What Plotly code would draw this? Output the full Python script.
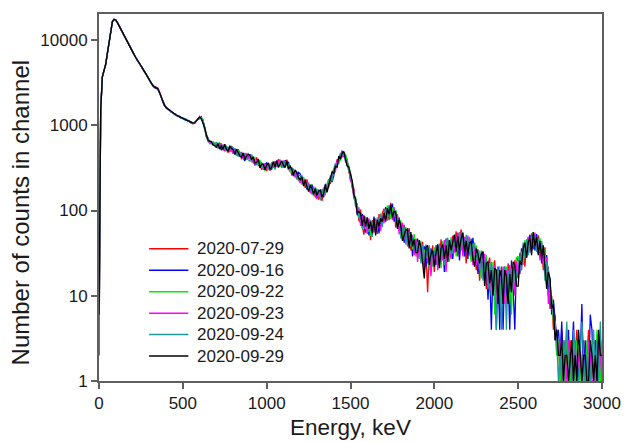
import plotly.graph_objects as go

# Energy channels (keV), 10 keV grid
energy_kev = list(range(0, 3001, 10))

series_names = ["2020-07-29", "2020-09-16", "2020-09-22", "2020-09-23", "2020-09-24", "2020-09-29"]
series_colors = ["#ff0000", "#0000ff", "#00ee00", "#ff00ff", "#1f9a9a", "#000000"]

counts_0729 = [
    2, 1450, 3650, 4450, 5250, 7100, 9600, 13100, 16600, 17400,
    17100, 15900, 14500, 13400, 12300, 11300, 10300, 9500, 8700, 8000,
    7350, 6750, 6250, 5750, 5300, 5050, 4700, 4350, 3950, 3750,
    3450, 3200, 2900, 2850, 2800, 2750, 2500, 2100, 1880, 1700,
    1640, 1580, 1490, 1460, 1380, 1370, 1300, 1300, 1250, 1240,
    1190, 1200, 1140, 1150, 1090, 1100, 1040, 1080, 1130, 1170,
    1250, 1180, 1160, 910, 800, 655, 650, 640, 585, 600,
    620, 565, 625, 535, 515, 560, 560, 475, 580, 520,
    480, 535, 485, 455, 485, 400, 450, 455, 400, 465,
    408, 430, 360, 397, 420, 338, 350, 300, 350, 330,
    290, 350, 325, 346, 318, 380, 340, 400, 337, 373,
    361, 332, 395, 320, 330, 257, 290, 252, 285, 250,
    221, 248, 229, 185, 232, 182, 182, 161, 181, 143,
    172, 134, 160, 130, 180, 175, 181, 233, 205, 261,
    305, 309, 398, 367, 445, 423, 492, 420, 398, 279,
    259, 184, 182, 119, 117, 75, 103, 66, 52, 80,
    58, 71, 45, 77, 60, 76, 53, 91, 69, 94,
    105, 80, 101, 77, 123, 90, 104, 63, 86, 58,
    72, 53, 68, 44, 50, 62, 34, 45, 34, 47,
    29, 42, 31, 43, 19, 34, 11, 35, 22, 39,
    19, 35, 30, 24, 46, 29, 41, 23, 40, 45,
    30, 51, 36, 57, 29, 47, 60, 34, 49, 24,
    47, 30, 47, 30, 36, 20, 35, 15, 28, 18,
    28, 12, 23, 28, 13, 17, 26, 10, 19, 6,
    22, 10, 17, 8, 24, 14, 21, 12, 26, 19,
    16, 32, 26, 36, 22, 39, 46, 36, 54, 35,
    50, 33, 51, 37, 38, 20, 37, 14, 22, 7,
    10, 4, 6, 2, 3, 1, 4, 2, 1, 3,
    1, 3, 2, 1, 2, 4, 1, 2, 1, 3,
    1, 2, 4, 1, 2, 1, 3, 1, 2, 3,
    1,
]

counts_0916 = [
    3, 1550, 3750, 4400, 5150, 6950, 9450, 12900, 16400, 17500,
    17300, 16100, 14700, 13200, 12100, 11100, 10450, 9650, 8850, 8050,
    7250, 6650, 6150, 5650, 5400, 4950, 4600, 4250, 4050, 3650,
    3350, 3100, 3000, 2780, 2700, 2680, 2420, 2180, 1920, 1740,
    1600, 1540, 1520, 1430, 1420, 1340, 1340, 1270, 1280, 1210,
    1220, 1160, 1180, 1110, 1130, 1060, 1080, 1050, 1110, 1190,
    1210, 1260, 1060, 950, 735, 715, 618, 620, 630, 590,
    545, 610, 585, 510, 583, 586, 508, 538, 513, 572,
    533, 481, 445, 522, 460, 475, 416, 383, 460, 418,
    458, 381, 407, 339, 398, 371, 318, 360, 320, 349,
    362, 309, 336, 302, 362, 334, 384, 332, 372, 373,
    327, 390, 348, 373, 290, 305, 253, 288, 241, 280,
    269, 212, 238, 218, 176, 205, 167, 203, 161, 175,
    144, 176, 146, 172, 143, 206, 173, 214, 245, 216,
    255, 342, 335, 409, 415, 503, 428, 449, 335, 331,
    231, 224, 146, 137, 88, 98, 71, 91, 77, 55,
    78, 51, 69, 54, 85, 56, 73, 54, 86, 76,
    77, 110, 89, 108, 85, 121, 74, 91, 66, 83,
    52, 67, 42, 56, 62, 40, 52, 29, 46, 35,
    47, 28, 41, 30, 38, 22, 33, 23, 36, 25,
    34, 23, 40, 28, 25, 40, 19, 47, 32, 44,
    42, 27, 48, 33, 55, 26, 47, 50, 29, 48,
    27, 46, 29, 48, 28, 37, 18, 30, 19, 33,
    16, 27, 9, 22, 4, 22, 18, 4, 22, 4,
    20, 4, 22, 10, 17, 4, 26, 12, 4, 28,
    26, 18, 36, 26, 38, 28, 42, 52, 34, 52,
    34, 53, 35, 44, 24, 36, 19, 30, 10, 16,
    6, 9, 5, 3, 4, 2, 5, 1, 3, 2,
    4, 1, 2, 5, 1, 3, 1, 2, 8, 1,
    3, 1, 1, 6, 4, 1, 3, 2, 1, 2,
    2,
]

counts_0922 = [
    2, 1500, 3700, 4380, 5200, 7050, 9550, 13050, 16500, 17450,
    17150, 16050, 14650, 13350, 12250, 11250, 10350, 9550, 8800, 7950,
    7300, 6700, 6200, 5700, 5350, 5000, 4650, 4300, 4000, 3700,
    3400, 3150, 2950, 2820, 2750, 2700, 2450, 2150, 1900, 1720,
    1630, 1550, 1510, 1440, 1410, 1350, 1330, 1280, 1270, 1220,
    1210, 1170, 1170, 1120, 1120, 1070, 1070, 1060, 1130, 1170,
    1230, 1240, 1160, 890, 775, 645, 660, 610, 610, 620,
    605, 623, 540, 579, 583, 531, 495, 551, 540, 494,
    519, 470, 509, 505, 425, 461, 462, 419, 404, 473,
    420, 369, 419, 420, 353, 349, 392, 320, 340, 291,
    330, 298, 357, 313, 351, 300, 373, 367, 325, 373,
    373, 367, 337, 351, 280, 324, 271, 288, 252, 222,
    250, 202, 246, 202, 216, 175, 204, 168, 148, 175,
    179, 148, 167, 144, 172, 151, 207, 233, 215, 273,
    315, 342, 335, 423, 385, 455, 444, 464, 373, 321,
    278, 208, 146, 144, 99, 103, 71, 81, 87, 60,
    73, 76, 50, 72, 60, 56, 83, 65, 86, 70,
    94, 86, 114, 108, 79, 108, 86, 102, 66, 72,
    77, 49, 59, 64, 42, 43, 52, 35, 53, 29,
    40, 27, 44, 26, 35, 28, 36, 20, 31, 22,
    37, 32, 23, 38, 21, 44, 30, 43, 28, 25,
    49, 35, 48, 29, 46, 52, 34, 55, 37, 48,
    43, 34, 25, 41, 26, 39, 25, 34, 16, 27,
    19, 30, 15, 24, 10, 25, 6, 20, 13, 22,
    8, 20, 13, 22, 10, 21, 6, 22, 15, 28,
    29, 20, 33, 23, 45, 31, 31, 48, 46, 56,
    38, 49, 31, 48, 27, 33, 34, 14, 19, 13,
    9, 5, 5, 2, 3, 1, 2, 3, 1, 4,
    2, 1, 3, 2, 1, 3, 2, 1, 2, 1,
    1, 3, 2, 1, 3, 2, 1, 4, 2, 1,
    3,
]

counts_0923 = [
    2, 1480, 3720, 4420, 5220, 7020, 9520, 13020, 16520, 17520,
    17220, 16020, 14620, 13320, 12220, 11220, 10420, 9620, 8820, 8020,
    7320, 6720, 6220, 5720, 5370, 5020, 4670, 4320, 4020, 3720,
    3420, 3170, 2970, 2840, 2770, 2720, 2470, 2170, 1910, 1730,
    1610, 1570, 1495, 1455, 1395, 1365, 1315, 1295, 1255, 1235,
    1195, 1185, 1155, 1135, 1105, 1085, 1055, 1075, 1115, 1185,
    1270, 1200, 1120, 950, 735, 690, 610, 640, 600, 610,
    575, 550, 598, 607, 542, 504, 548, 551, 486, 533,
    463, 509, 512, 444, 447, 487, 404, 442, 472, 406,
    445, 417, 371, 350, 386, 392, 329, 360, 300, 358,
    310, 341, 293, 368, 318, 367, 327, 367, 395, 316,
    384, 332, 372, 298, 340, 285, 298, 244, 268, 234,
    211, 239, 202, 235, 184, 213, 160, 182, 188, 149,
    137, 169, 139, 179, 150, 191, 199, 187, 255, 239,
    295, 286, 385, 381, 475, 423, 476, 376, 347, 311,
    222, 216, 138, 131, 93, 109, 66, 86, 62, 85,
    53, 81, 59, 68, 55, 81, 58, 81, 58, 88,
    71, 104, 83, 102, 111, 77, 110, 74, 91, 53,
    57, 72, 46, 60, 38, 55, 41, 52, 30, 44,
    25, 42, 27, 36, 22, 40, 24, 32, 17, 34,
    22, 39, 20, 34, 38, 26, 45, 19, 44, 33,
    27, 47, 32, 45, 54, 34, 56, 29, 49, 36,
    51, 30, 43, 23, 38, 23, 31, 20, 32, 21,
    31, 18, 25, 11, 23, 12, 23, 8, 13, 20,
    13, 22, 8, 20, 13, 23, 11, 22, 10, 25,
    18, 29, 20, 40, 29, 42, 49, 32, 50, 39,
    55, 37, 47, 26, 41, 24, 28, 28, 8, 14,
    7, 7, 3, 4, 2, 3, 1, 2, 2, 1,
    3, 2, 1, 2, 3, 1, 2, 3, 1, 2,
    2, 1, 3, 2, 1, 1, 2, 1, 3, 2,
    1,
]

counts_0924 = [
    2, 1520, 3680, 4410, 5180, 6980, 9480, 12980, 16480, 17480,
    17180, 15980, 14580, 13280, 12180, 11180, 10380, 9580, 8780, 7980,
    7280, 6680, 6180, 5680, 5330, 4980, 4630, 4280, 3980, 3680,
    3380, 3130, 2930, 2800, 2730, 2690, 2440, 2140, 1890, 1710,
    1625, 1555, 1505, 1445, 1405, 1355, 1325, 1285, 1265, 1225,
    1205, 1175, 1165, 1125, 1115, 1075, 1065, 1065, 1125, 1175,
    1190, 1220, 1140, 970, 745, 705, 615, 605, 645, 575,
    634, 537, 556, 593, 569, 518, 575, 512, 554, 559,
    547, 522, 458, 431, 485, 438, 451, 469, 413, 391,
    382, 454, 407, 373, 341, 382, 340, 371, 310, 330,
    341, 319, 304, 357, 373, 311, 361, 332, 383, 339,
    316, 378, 337, 341, 300, 314, 307, 261, 231, 259,
    259, 258, 211, 218, 184, 198, 197, 154, 175, 185,
    165, 169, 132, 165, 187, 159, 181, 223, 235, 228,
    305, 354, 347, 353, 460, 487, 444, 391, 398, 289,
    269, 192, 167, 112, 122, 81, 87, 61, 82, 75,
    63, 56, 78, 49, 75, 71, 63, 81, 92, 64,
    99, 98, 76, 115, 104, 83, 104, 79, 81, 77,
    47, 63, 64, 40, 58, 51, 38, 49, 43, 31,
    43, 39, 24, 40, 26, 37, 27, 39, 25, 31,
    31, 39, 27, 41, 25, 37, 23, 43, 48, 29,
    46, 31, 52, 37, 34, 56, 34, 50, 37, 52,
    35, 49, 29, 38, 42, 27, 35, 20, 34, 15,
    25, 27, 12, 17, 25, 12, 18, 4, 20, 17,
    4, 20, 22, 4, 20, 11, 21, 12, 21, 16,
    24, 29, 20, 42, 28, 46, 30, 44, 34, 52,
    46, 33, 47, 33, 44, 33, 15, 25, 20, 9,
    8, 6, 4, 3, 1, 2, 1, 3, 2, 5,
    1, 2, 1, 4, 2, 1, 1, 2, 5, 2,
    1, 2, 1, 1, 2, 4, 1, 3, 1, 5,
    1,
]

counts_0929 = [
    6, 1500, 3700, 4400, 5200, 7000, 9500, 13000, 16500, 17500,
    17200, 16000, 14600, 13300, 12200, 11200, 10400, 9600, 8800, 8000,
    7300, 6700, 6200, 5700, 5350, 5000, 4650, 4300, 4000, 3700,
    3400, 3150, 2950, 2820, 2750, 2700, 2450, 2150, 1900, 1720,
    1620, 1560, 1500, 1450, 1400, 1360, 1320, 1290, 1260, 1230,
    1200, 1180, 1160, 1130, 1110, 1080, 1060, 1070, 1120, 1180,
    1250, 1200, 1080, 935, 785, 670, 650, 645, 590, 580,
    560, 610, 525, 580, 525, 600, 520, 500, 565, 533,
    519, 455, 525, 483, 435, 425, 476, 395, 437, 454,
    445, 393, 430, 362, 364, 403, 319, 350, 350, 301,
    341, 362, 304, 324, 373, 323, 384, 320, 348, 384,
    339, 320, 383, 309, 330, 305, 262, 300, 277, 242,
    230, 248, 194, 227, 192, 167, 197, 182, 155, 181,
    151, 169, 174, 144, 158, 199, 164, 196, 245, 284,
    275, 331, 322, 436, 400, 471, 492, 405, 335, 321,
    259, 224, 153, 137, 93, 97, 93, 66, 87, 65,
    83, 61, 74, 54, 80, 51, 78, 65, 81, 74,
    94, 74, 107, 90, 117, 83, 98, 96, 61, 78,
    67, 44, 51, 60, 58, 36, 56, 38, 46, 32,
    32, 45, 37, 26, 16, 37, 39, 23, 31, 34,
    22, 32, 40, 21, 36, 40, 27, 39, 25, 45,
    34, 43, 52, 33, 50, 34, 47, 55, 33, 44,
    31, 42, 43, 27, 22, 36, 31, 24, 31, 33,
    13, 24, 25, 14, 20, 10, 21, 20, 8, 20,
    17, 8, 20, 17, 8, 18, 11, 25, 23, 13,
    13, 26, 23, 36, 42, 28, 42, 48, 30, 56,
    38, 49, 30, 44, 27, 39, 22, 12, 19, 16,
    7, 8, 3, 4, 2, 2, 3, 1, 2, 2,
    1, 2, 3, 1, 2, 1, 4, 2, 1, 2,
    2, 1, 1, 3, 2, 1, 2, 1, 4, 2,
    2,
]

all_counts = [counts_0729, counts_0916, counts_0922, counts_0923, counts_0924, counts_0929]
for c in all_counts:
    if len(c) != len(energy_kev):
        raise ValueError(f"length mismatch: {len(c)}")

x_ticks = [0, 500, 1000, 1500, 2000, 2500, 3000]
y_ticks = [1, 10, 100, 1000, 10000]
y_tick_text = ["1", "10", "100", "1000", "10000"]

FONT = "Liberation Sans, Arial, sans-serif"
TEXT_COLOR = "#1a1a1a"
AXIS_COLOR = "#5f5f5f"

fig = go.Figure()
for name, color, counts in zip(series_names, series_colors, all_counts):
    fig.add_trace(go.Scatter(
        x=energy_kev, y=counts, mode="lines", name=name,
        line=dict(color=color, width=1.3), showlegend=False,
    ))

# Custom legend (line sample + label) placed like the reference
shapes = []
annotations = []
leg_top = 0.3604
leg_step = 0.0585
for i, (name, color) in enumerate(zip(series_names, series_colors)):
    yy = leg_top - i * leg_step
    shapes.append(dict(type="line", xref="paper", yref="paper",
                       x0=0.0996, x1=0.1777, y0=yy, y1=yy,
                       line=dict(color=color, width=1.5)))
    annotations.append(dict(text=name, xref="paper", yref="paper", x=0.191, y=yy,
                            xanchor="left", yanchor="middle", showarrow=False,
                            font=dict(family=FONT, size=17, color=TEXT_COLOR)))

annotations.append(dict(text="Energy, keV", xref="paper", yref="paper", x=0.5, y=-0.127,
                        xanchor="center", yanchor="middle", showarrow=False,
                        font=dict(family=FONT, size=22.5, color=TEXT_COLOR)))
annotations.append(dict(text="Number of counts in channel", xref="paper", yref="paper",
                        x=-0.156, y=0.458, xanchor="center", yanchor="middle", textangle=-90,
                        showarrow=False, font=dict(family=FONT, size=24, color=TEXT_COLOR)))

fig.update_layout(
    width=633, height=442,
    margin=dict(l=99, r=22, t=12, b=61),
    paper_bgcolor="white", plot_bgcolor="white",
    font=dict(family=FONT, color=TEXT_COLOR, size=17),
    showlegend=False,
    shapes=shapes,
    annotations=annotations,
)

fig.update_xaxes(
    range=[0, 3000], tickmode="array", tickvals=x_ticks,
    showgrid=False, zeroline=False,
    showline=True, mirror=True, linecolor=AXIS_COLOR, linewidth=2,
    ticks="outside", ticklen=6, tickwidth=2, tickcolor=AXIS_COLOR,
    tickfont=dict(family=FONT, size=17, color=TEXT_COLOR),
)
fig.update_yaxes(
    type="log", range=[0, 4.306], tickmode="array", tickvals=y_ticks, ticktext=y_tick_text,
    showgrid=False, zeroline=False,
    showline=True, mirror=True, linecolor=AXIS_COLOR, linewidth=2,
    ticks="outside", ticklen=6, tickwidth=2, tickcolor=AXIS_COLOR,
    tickfont=dict(family=FONT, size=17, color=TEXT_COLOR),
)

fig.write_html("out.html")
